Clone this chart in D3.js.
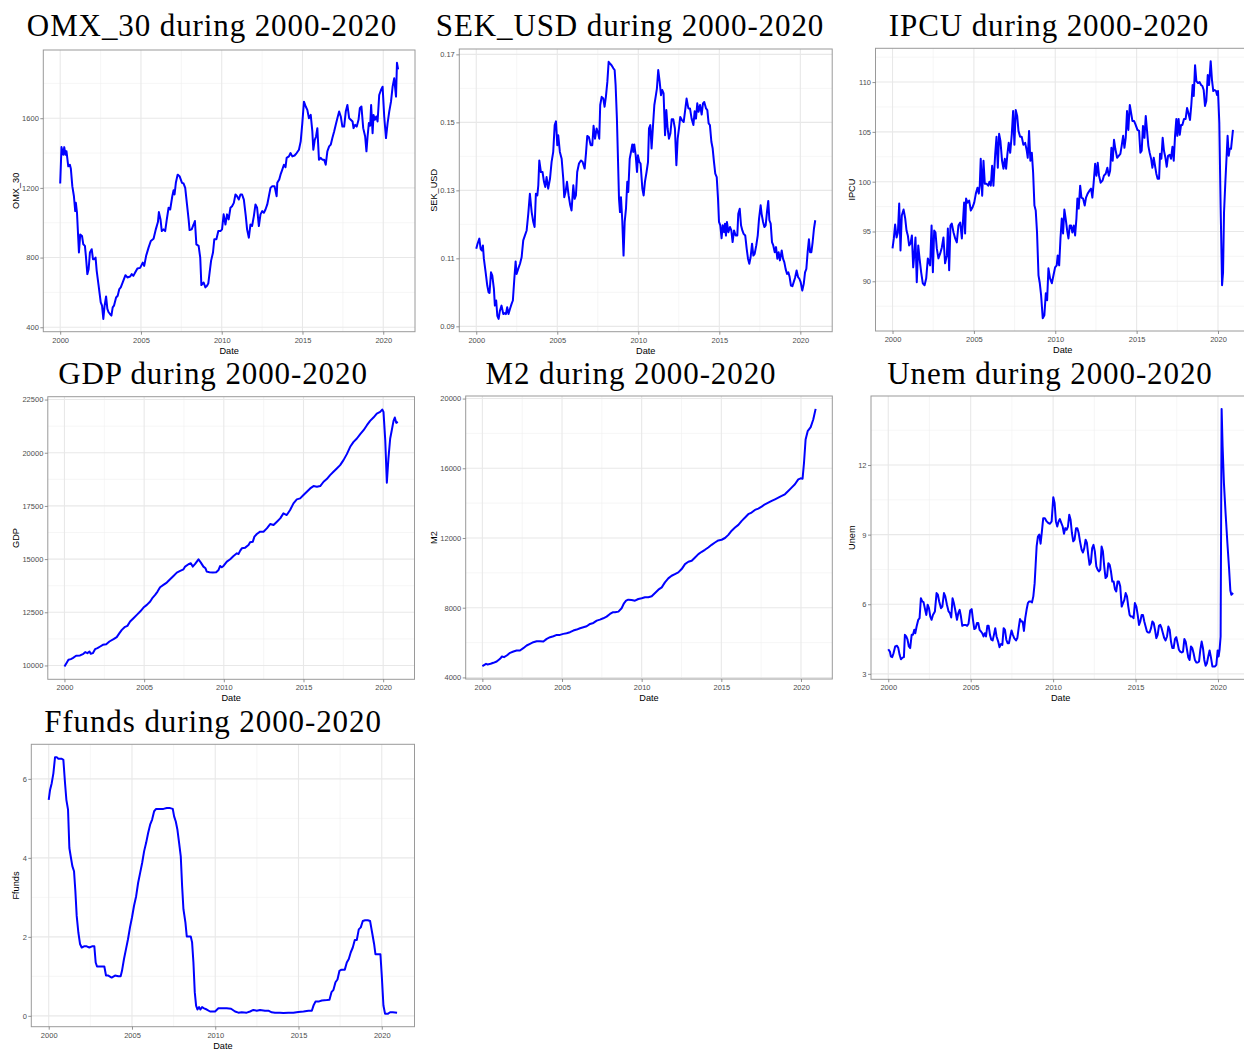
<!DOCTYPE html>
<html>
<head>
<meta charset="utf-8">
<script src="https://cdn.jsdelivr.net/npm/d3@7"></script>
<style>
    body { margin: 0; background: #fff; }
    .tick text { font-family: "Liberation Sans", Arial, sans-serif; font-size: 7.5px; fill: #4d4d4d; }
    .ptitle { font-family: "Liberation Serif", "Times New Roman", serif; font-size: 31px; letter-spacing: 0.9px; fill: #000; }
    .alab { font-family: "Liberation Sans", Arial, sans-serif; font-size: 9.2px; fill: #000; }
</style>
</head>
<body>
<div id="chart"></div>
<script>
// monthly-ish readings, [decimal year, value]
const xTicks = [2000, 2005, 2010, 2015, 2020]

const omx30 = [
    [2000.00,1225],[2000.08,1434],[2000.19,1390],[2000.25,1434],[2000.33,1390],[2000.39,1410],[2000.50,1324],[2000.60,1333],[2000.66,1310],[2000.75,1210],[2000.85,1152],[2000.93,1067],[2000.97,1114],
    [2001.04,1057],[2001.16,829],[2001.24,933],[2001.35,924],[2001.43,876],[2001.53,867],[2001.59,810],[2001.68,705],[2001.76,733],[2001.84,829],[2001.95,848],
    [2002.03,791],[2002.11,791],[2002.19,800],[2002.26,724],[2002.38,638],[2002.51,543],[2002.59,524],[2002.67,448],[2002.75,524],[2002.84,577],[2002.92,505],
    [2003.00,486],[2003.08,476],[2003.17,467],[2003.25,514],[2003.33,524],[2003.46,571],[2003.56,581],[2003.66,619],[2003.75,629],[2003.87,657],
    [2004.04,699],[2004.16,686],[2004.33,691],[2004.43,705],[2004.53,695],[2004.64,714],[2004.78,737],[2004.95,741],
    [2005.11,771],[2005.20,752],[2005.32,810],[2005.47,857],[2005.61,895],[2005.78,908],[2005.92,962],
    [2006.05,1004],[2006.11,1061],[2006.21,1019],[2006.29,952],[2006.40,962],[2006.50,952],[2006.60,1019],[2006.71,1086],[2006.81,1076],[2006.94,1152],
    [2007.02,1187],[2007.08,1162],[2007.16,1229],[2007.27,1276],[2007.39,1267],[2007.54,1229],[2007.64,1225],[2007.74,1200],[2007.85,1105],[2007.95,1019],
    [2008.01,958],[2008.14,962],[2008.26,990],[2008.34,1010],[2008.43,876],[2008.57,867],[2008.67,800],[2008.74,642],[2008.88,657],[2008.99,629],
    [2009.09,638],[2009.17,652],[2009.25,714],[2009.34,781],[2009.46,829],[2009.54,905],[2009.67,905],[2009.79,952],[2009.92,952],
    [2010.02,962],[2010.12,1048],[2010.23,990],[2010.33,1048],[2010.43,1019],[2010.54,1086],[2010.64,1095],[2010.75,1114],[2010.85,1162],[2010.95,1152],
    [2011.06,1133],[2011.16,1162],[2011.26,1162],[2011.37,1133],[2011.49,1038],[2011.57,962],[2011.68,914],[2011.78,990],[2011.88,981],[2011.99,1038],
    [2012.09,1105],[2012.19,1086],[2012.30,981],[2012.40,1048],[2012.51,1067],[2012.61,1057],[2012.71,1076],[2012.82,1105],[2012.92,1152],
    [2013.02,1200],[2013.13,1210],[2013.27,1210],[2013.40,1152],[2013.44,1229],[2013.56,1248],[2013.64,1276],[2013.75,1305],[2013.85,1333],[2013.95,1319],
    [2014.02,1372],[2014.16,1381],[2014.26,1400],[2014.37,1381],[2014.51,1386],[2014.64,1400],[2014.78,1419],[2014.89,1467],[2014.99,1572],
    [2015.09,1695],[2015.20,1667],[2015.30,1648],[2015.40,1600],[2015.51,1619],[2015.61,1524],[2015.67,1419],[2015.76,1476],[2015.84,1495],[2015.92,1543],
    [2016.02,1362],[2016.13,1372],[2016.23,1362],[2016.34,1362],[2016.44,1333],[2016.54,1410],[2016.65,1438],[2016.75,1448],[2016.85,1486],[2016.96,1524],
    [2017.06,1562],[2017.16,1600],[2017.27,1638],[2017.37,1610],[2017.47,1552],[2017.58,1552],[2017.68,1638],[2017.78,1676],[2017.89,1600],[2017.99,1591],
    [2018.10,1581],[2018.16,1543],[2018.26,1562],[2018.36,1552],[2018.47,1591],[2018.55,1657],[2018.65,1667],[2018.76,1543],[2018.88,1495],[2018.96,1410],
    [2019.03,1495],[2019.11,1572],[2019.19,1557],[2019.25,1676],[2019.34,1514],[2019.40,1619],[2019.48,1591],[2019.57,1610],[2019.65,1581],[2019.75,1733],[2019.86,1762],[2019.96,1781],
    [2020.06,1610],[2020.17,1486],[2020.27,1572],[2020.37,1638],[2020.48,1695],[2020.58,1781],[2020.68,1829],[2020.79,1724],[2020.85,1918],[2020.92,1880]
]

const sekUsd = [
    [2000.00,.1128],[2000.08,.1143],[2000.19,.1158],[2000.27,.1128],[2000.35,.1123],[2000.41,.1138],[2000.47,.1099],[2000.58,.1059],[2000.68,.1020],[2000.76,.1000],[2000.82,.0998],[2000.91,.1059],[2000.99,.1049],
    [2001.09,.1010],[2001.15,.0961],[2001.23,.0976],[2001.30,.0931],[2001.38,.0922],[2001.46,.0946],[2001.56,.0961],[2001.67,.0936],[2001.77,.0939],[2001.83,.0936],[2001.91,.0956],[2001.99,.0936],
    [2002.08,.0951],[2002.18,.0966],[2002.26,.0976],[2002.35,.1040],[2002.43,.1091],[2002.49,.1054],[2002.59,.1069],[2002.70,.1084],[2002.80,.1103],[2002.90,.1153],
    [2003.00,.1167],[2003.11,.1182],[2003.21,.1231],[2003.31,.1290],[2003.42,.1236],[2003.52,.1207],[2003.60,.1192],[2003.68,.1290],[2003.77,.1285],[2003.83,.1315],[2003.89,.1388],[2003.99,.1354],
    [2004.09,.1354],[2004.18,.1325],[2004.26,.1310],[2004.34,.1339],[2004.44,.1305],[2004.55,.1334],[2004.65,.1384],[2004.75,.1413],[2004.84,.1492],[2004.92,.1503],
    [2005.00,.1433],[2005.06,.1462],[2005.16,.1413],[2005.27,.1393],[2005.37,.1334],[2005.43,.1280],[2005.51,.1295],[2005.60,.1325],[2005.70,.1285],[2005.80,.1256],[2005.88,.1241],[2005.99,.1315],
    [2006.07,.1275],[2006.15,.1285],[2006.23,.1354],[2006.34,.1379],[2006.46,.1388],[2006.56,.1384],[2006.69,.1364],[2006.77,.1408],[2006.85,.1460],[2006.95,.1457],
    [2007.06,.1433],[2007.16,.1433],[2007.24,.1490],[2007.33,.1452],[2007.43,.1482],[2007.53,.1467],[2007.59,.1452],[2007.65,.1551],[2007.74,.1575],[2007.84,.1570],[2007.92,.1546],
    [2008.00,.1575],[2008.09,.1619],[2008.17,.1678],[2008.25,.1673],[2008.35,.1668],[2008.46,.1659],[2008.54,.1654],[2008.60,.1610],[2008.68,.1511],[2008.74,.1403],[2008.81,.1275],[2008.87,.1236],[2008.93,.1280],
    [2009.01,.1212],[2009.09,.1108],[2009.16,.1207],[2009.24,.1246],[2009.32,.1325],[2009.38,.1295],[2009.47,.1393],[2009.55,.1413],[2009.63,.1435],[2009.69,.1413],[2009.75,.1435],[2009.84,.1403],[2009.92,.1354],[2009.98,.1403],
    [2010.06,.1384],[2010.14,.1379],[2010.25,.1305],[2010.33,.1285],[2010.41,.1325],[2010.51,.1354],[2010.60,.1384],[2010.66,.1482],[2010.74,.1492],[2010.82,.1423],[2010.91,.1492],[2010.99,.1551],
    [2011.07,.1575],[2011.15,.1600],[2011.23,.1654],[2011.32,.1619],[2011.40,.1580],[2011.48,.1595],[2011.56,.1585],[2011.65,.1462],[2011.73,.1536],[2011.81,.1482],[2011.89,.1452],[2011.98,.1467],
    [2012.06,.1509],[2012.16,.1509],[2012.26,.1482],[2012.35,.1374],[2012.43,.1452],[2012.51,.1482],[2012.59,.1516],[2012.70,.1506],[2012.80,.1501],[2012.88,.1531],[2012.98,.1570],
    [2013.09,.1541],[2013.19,.1541],[2013.29,.1511],[2013.40,.1492],[2013.48,.1533],[2013.56,.1511],[2013.64,.1556],[2013.72,.1531],[2013.81,.1551],[2013.91,.1523],[2013.99,.1556],
    [2014.07,.1560],[2014.18,.1541],[2014.26,.1536],[2014.34,.1497],[2014.42,.1492],[2014.51,.1443],[2014.59,.1423],[2014.67,.1384],[2014.75,.1349],[2014.84,.1339],[2014.92,.1275],[2014.98,.1207],
    [2015.06,.1197],[2015.14,.1159],[2015.21,.1197],[2015.29,.1177],[2015.35,.1202],[2015.41,.1167],[2015.47,.1207],[2015.56,.1177],[2015.66,.1192],[2015.74,.1182],[2015.82,.1148],[2015.91,.1182],
    [2016.01,.1167],[2016.11,.1167],[2016.17,.1231],[2016.26,.1246],[2016.34,.1197],[2016.42,.1182],[2016.50,.1172],[2016.60,.1167],[2016.69,.1128],[2016.77,.1099],[2016.85,.1084],[2016.93,.1103],
    [2017.02,.1143],[2017.10,.1108],[2017.18,.1113],[2017.28,.1138],[2017.37,.1167],[2017.45,.1216],[2017.55,.1256],[2017.61,.1231],[2017.70,.1207],[2017.78,.1192],[2017.86,.1197],[2017.94,.1236],
    [2018.02,.1269],[2018.09,.1212],[2018.17,.1202],[2018.25,.1148],[2018.33,.1138],[2018.42,.1118],[2018.50,.1133],[2018.58,.1099],[2018.66,.1118],[2018.74,.1094],[2018.85,.1123],[2018.93,.1099],
    [2019.01,.1089],[2019.09,.1069],[2019.18,.1054],[2019.26,.1059],[2019.34,.1045],[2019.42,.1020],[2019.51,.1018],[2019.59,.1030],[2019.67,.1042],[2019.77,.1064],[2019.86,.1045],[2019.94,.1040],
    [2020.02,.1030],[2020.12,.1005],[2020.21,.1025],[2020.29,.1059],[2020.37,.1069],[2020.45,.1118],[2020.53,.1156],[2020.60,.1118],[2020.68,.1118],[2020.76,.1148],[2020.84,.1187],[2020.92,.1212]
]

const ipcu = [
    [2000.00,93.3],[2000.08,94.3],[2000.16,95.7],[2000.25,94.4],[2000.33,94.9],[2000.41,97.8],[2000.49,93.1],[2000.57,96.6],[2000.68,97.2],[2000.78,96.3],[2000.86,95.1],[2000.94,94.6],
    [2001.02,93.6],[2001.11,93.8],[2001.19,94.6],[2001.27,91.4],[2001.35,92.9],[2001.41,94.4],[2001.49,89.9],[2001.58,93.6],[2001.66,92.3],[2001.76,90.9],[2001.86,89.8],[2001.97,89.6],
    [2002.07,90.3],[2002.17,92.3],[2002.25,91.9],[2002.31,91.6],[2002.40,95.6],[2002.48,90.9],[2002.56,95.1],[2002.64,94.9],[2002.72,93.3],[2002.82,92.3],[2002.93,92.8],
    [2003.03,93.4],[2003.13,94.4],[2003.23,91.8],[2003.34,92.6],[2003.40,95.3],[2003.48,91.1],[2003.56,95.6],[2003.64,95.8],[2003.75,94.9],[2003.85,94.3],[2003.95,93.9],
    [2004.05,95.6],[2004.16,95.9],[2004.26,94.3],[2004.34,96.3],[2004.40,97.9],[2004.46,94.8],[2004.52,98.3],[2004.61,97.9],[2004.71,98.1],[2004.81,97.1],[2004.91,97.4],
    [2005.02,97.9],[2005.12,98.8],[2005.22,99.4],[2005.30,98.8],[2005.36,99.6],[2005.42,102.3],[2005.51,98.6],[2005.59,102.1],[2005.67,99.8],[2005.77,99.8],[2005.88,99.6],[2005.96,100.0],
    [2006.04,99.6],[2006.12,101.6],[2006.20,99.6],[2006.31,102.8],[2006.39,104.5],[2006.47,101.4],[2006.55,104.8],[2006.63,104.1],[2006.73,102.1],[2006.82,101.3],[2006.90,102.3],[2006.98,101.3],
    [2007.06,102.8],[2007.14,103.9],[2007.23,102.9],[2007.33,104.8],[2007.41,107.1],[2007.49,103.7],[2007.57,107.2],[2007.66,106.6],[2007.74,105.1],[2007.84,104.5],[2007.94,104.5],
    [2008.04,103.7],[2008.15,103.9],[2008.25,103.1],[2008.31,102.4],[2008.39,105.1],[2008.47,102.1],[2008.56,102.9],[2008.64,100.9],[2008.72,97.6],[2008.80,97.1],[2008.88,94.9],[2008.97,90.6],
    [2009.05,89.8],[2009.13,88.6],[2009.23,86.3],[2009.33,86.6],[2009.42,88.8],[2009.50,88.1],[2009.58,91.3],[2009.68,90.3],[2009.79,89.8],[2009.89,90.6],[2009.99,91.4],
    [2010.09,91.6],[2010.15,92.6],[2010.24,91.6],[2010.32,94.3],[2010.40,96.3],[2010.48,94.8],[2010.56,97.2],[2010.64,96.3],[2010.73,95.1],[2010.81,94.3],[2010.89,95.6],[2010.97,95.6],
    [2011.05,94.9],[2011.14,95.6],[2011.22,94.6],[2011.30,96.3],[2011.36,98.3],[2011.44,97.3],[2011.53,99.6],[2011.61,98.4],[2011.71,98.3],[2011.81,97.6],[2011.89,98.4],[2011.99,98.8],
    [2012.10,99.1],[2012.20,99.3],[2012.28,98.4],[2012.36,99.9],[2012.45,101.8],[2012.53,100.6],[2012.61,101.9],[2012.69,100.6],[2012.79,99.9],[2012.90,100.1],[2012.99,100.6],
    [2013.10,100.8],[2013.20,101.4],[2013.29,100.6],[2013.37,101.1],[2013.45,103.4],[2013.53,102.1],[2013.61,104.2],[2013.69,103.3],[2013.80,102.4],[2013.90,102.6],[2014.00,102.8],
    [2014.08,103.6],[2014.17,104.6],[2014.25,103.4],[2014.33,104.4],[2014.41,107.1],[2014.49,105.2],[2014.58,107.7],[2014.66,106.9],[2014.74,106.1],[2014.84,106.1],[2014.94,105.7],
    [2015.05,105.2],[2015.15,105.1],[2015.23,102.9],[2015.31,103.1],[2015.39,105.6],[2015.48,104.4],[2015.56,106.6],[2015.64,105.1],[2015.72,103.6],[2015.80,102.9],[2015.89,102.3],[2015.97,101.4],
    [2016.05,102.4],[2016.13,101.6],[2016.21,100.8],[2016.29,100.3],[2016.38,100.3],[2016.44,102.8],[2016.52,102.3],[2016.60,104.4],[2016.68,103.1],[2016.77,102.4],[2016.85,101.5],[2016.93,102.6],
    [2017.03,102.7],[2017.11,102.3],[2017.20,103.5],[2017.28,102.1],[2017.36,104.6],[2017.44,106.3],[2017.50,104.6],[2017.58,106.3],[2017.65,104.7],[2017.73,105.7],[2017.81,105.7],[2017.91,106.3],
    [2018.01,106.3],[2018.10,107.4],[2018.18,106.9],[2018.28,106.2],[2018.36,107.7],[2018.44,109.7],[2018.51,108.6],[2018.59,111.7],[2018.67,110.1],[2018.77,109.9],[2018.87,110.0],[2018.96,109.7],
    [2019.04,109.6],[2019.12,109.2],[2019.20,107.6],[2019.28,108.1],[2019.37,110.7],[2019.45,109.7],[2019.55,112.1],[2019.63,110.2],[2019.71,109.1],[2019.79,109.2],[2019.88,109.1],[2019.94,108.7],
    [2020.00,109.1],[2020.08,105.9],[2020.16,97.6],[2020.25,89.6],[2020.31,90.9],[2020.37,96.9],[2020.45,99.9],[2020.53,102.6],[2020.59,104.6],[2020.66,102.6],[2020.72,103.3],[2020.80,103.3],[2020.92,105.2]
]

const gdp = [
    [2000.00,9953],[2000.15,10141],[2000.25,10266],[2000.40,10297],[2000.52,10344],[2000.73,10454],[2000.98,10469],[2001.19,10548],[2001.30,10626],[2001.44,10579],[2001.57,10657],[2001.65,10548],[2001.78,10579],[2001.92,10767],
    [2002.07,10814],[2002.24,10892],[2002.41,10970],[2002.62,11001],[2002.82,11126],[2003.08,11236],[2003.28,11330],[2003.45,11518],[2003.60,11674],[2003.77,11799],[2003.95,11862],
    [2004.12,12065],[2004.33,12222],[2004.54,12378],[2004.75,12534],[2004.96,12722],[2005.17,12847],[2005.38,13004],[2005.54,13192],[2005.69,13317],[2005.84,13473],
    [2006.00,13677],[2006.21,13786],[2006.42,13896],[2006.63,14052],[2006.84,14208],[2007.05,14365],[2007.26,14443],[2007.47,14521],[2007.57,14647],[2007.78,14756],[2007.93,14803],
    [2008.05,14647],[2008.20,14772],[2008.41,14991],[2008.56,14834],[2008.72,14647],[2008.85,14568],[2008.93,14412],[2009.10,14381],[2009.31,14365],[2009.52,14381],[2009.67,14490],[2009.77,14678],[2009.87,14615],[2009.98,14678],
    [2010.19,14881],[2010.40,14991],[2010.61,15147],[2010.82,15272],[2010.92,15241],[2011.03,15397],[2011.13,15507],[2011.34,15538],[2011.55,15663],[2011.65,15789],[2011.82,15820],[2011.92,16055],
    [2012.07,16180],[2012.28,16289],[2012.49,16289],[2012.70,16446],[2012.91,16649],[2013.12,16602],[2013.33,16759],[2013.54,16915],[2013.74,17150],[2013.95,17071],
    [2014.16,17306],[2014.37,17619],[2014.58,17807],[2014.79,17854],[2015.00,18010],[2015.21,18167],[2015.42,18323],[2015.63,18433],[2015.84,18401],
    [2016.05,18433],[2016.26,18636],[2016.46,18761],[2016.67,18949],[2016.88,19105],[2017.09,19262],[2017.30,19418],[2017.51,19653],[2017.72,19935],[2017.93,20279],
    [2018.14,20513],[2018.35,20670],[2018.56,20873],[2018.77,21060],[2018.98,21296],[2019.18,21499],[2019.39,21656],[2019.60,21843],[2019.81,21922],[2019.94,22031],
    [2020.02,21922],[2020.13,20592],[2020.23,18589],[2020.33,19731],[2020.44,20670],[2020.54,21060],[2020.65,21499],[2020.73,21656],[2020.82,21405],[2020.92,21452]
]

const m2 = [
    [2000.00,4648],[2000.13,4725],[2000.23,4782],[2000.33,4744],[2000.52,4782],[2000.69,4839],[2000.90,4915],[2001.11,5068],[2001.23,5201],[2001.36,5163],[2001.53,5259],[2001.74,5411],[2001.95,5488],
    [2002.15,5545],[2002.36,5545],[2002.57,5678],[2002.78,5831],[2002.99,5926],[2003.20,6021],[2003.41,6079],[2003.62,6079],[2003.83,6060],
    [2004.04,6212],[2004.25,6307],[2004.46,6365],[2004.67,6441],[2004.87,6441],[2005.08,6498],[2005.29,6536],[2005.50,6594],[2005.71,6689],[2005.92,6746],
    [2006.13,6822],[2006.34,6880],[2006.55,6937],[2006.76,7070],[2006.97,7127],[2007.18,7261],[2007.38,7318],[2007.59,7394],[2007.80,7490],
    [2008.01,7642],[2008.18,7738],[2008.33,7738],[2008.54,7776],[2008.74,7967],[2008.89,8253],[2009.02,8405],[2009.16,8462],[2009.37,8443],[2009.58,8405],[2009.79,8500],
    [2010.00,8539],[2010.21,8596],[2010.42,8596],[2010.63,8653],[2010.84,8844],[2011.05,9035],[2011.26,9168],[2011.46,9454],[2011.67,9683],[2011.88,9835],
    [2012.09,9931],[2012.30,10026],[2012.51,10217],[2012.72,10503],[2012.93,10636],[2013.14,10693],[2013.35,10884],[2013.56,11075],[2013.77,11208],[2013.97,11323],
    [2014.18,11456],[2014.39,11609],[2014.60,11742],[2014.81,11860],[2015.02,11900],[2015.23,12000],[2015.44,12180],[2015.65,12420],[2015.86,12601],
    [2016.07,12753],[2016.28,12982],[2016.49,13173],[2016.69,13364],[2016.90,13459],[2017.11,13611],[2017.32,13688],[2017.53,13802],[2017.74,13935],[2017.95,14031],
    [2018.16,14126],[2018.37,14221],[2018.58,14317],[2018.79,14412],[2018.99,14508],[2019.20,14698],[2019.41,14889],[2019.62,15080],[2019.83,15366],[2019.98,15423],
    [2020.10,15404],[2020.19,16319],[2020.29,17654],[2020.42,18131],[2020.61,18360],[2020.77,18799],[2020.92,19409]
]

const unem = [
    [2000.00,4.06],[2000.10,3.96],[2000.16,3.75],[2000.24,3.72],[2000.32,3.89],[2000.42,4.18],[2000.53,4.21],[2000.61,4.11],[2000.69,3.82],[2000.77,3.63],[2000.87,3.70],[2000.95,3.72],
    [2001.01,4.68],[2001.09,4.61],[2001.17,4.47],[2001.25,4.18],[2001.33,4.11],[2001.42,4.68],[2001.50,4.68],[2001.58,4.90],[2001.64,4.75],[2001.72,5.04],[2001.82,5.33],[2001.90,5.40],[2001.98,6.26],
    [2002.06,6.12],[2002.14,6.09],[2002.22,5.83],[2002.31,5.54],[2002.39,5.98],[2002.47,5.83],[2002.55,5.47],[2002.63,5.33],[2002.71,5.54],[2002.83,5.69],[2002.93,6.48],
    [2003.01,6.41],[2003.09,6.12],[2003.20,5.83],[2003.28,5.90],[2003.38,6.48],[2003.46,6.34],[2003.56,5.98],[2003.66,5.69],[2003.74,5.62],[2003.82,5.43],[2003.90,6.26],[2003.98,6.05],
    [2004.06,5.76],[2004.17,5.33],[2004.25,5.62],[2004.33,5.76],[2004.41,5.47],[2004.49,5.07],[2004.59,5.11],[2004.69,5.11],[2004.79,5.07],[2004.87,5.16],[2004.97,5.73],
    [2005.06,5.79],[2005.14,5.33],[2005.22,4.93],[2005.30,4.97],[2005.38,5.19],[2005.46,5.19],[2005.54,4.90],[2005.62,4.83],[2005.70,4.75],[2005.78,4.61],[2005.86,4.75],[2005.93,4.61],
    [2006.01,5.07],[2006.09,5.07],[2006.17,4.68],[2006.25,4.47],[2006.33,4.44],[2006.41,4.68],[2006.49,4.97],[2006.57,4.61],[2006.67,4.39],[2006.75,4.15],[2006.84,4.29],[2006.92,4.25],
    [2007.00,4.97],[2007.08,4.90],[2007.16,4.47],[2007.24,4.32],[2007.32,4.32],[2007.40,4.61],[2007.48,4.87],[2007.56,4.68],[2007.64,4.54],[2007.75,4.44],[2007.83,4.54],[2007.91,4.97],[2007.99,5.36],
    [2008.07,5.26],[2008.15,5.26],[2008.23,4.85],[2008.31,5.40],[2008.39,5.76],[2008.47,6.05],[2008.55,6.12],[2008.63,6.12],[2008.72,6.08],[2008.80,6.34],[2008.88,6.91],[2008.94,7.70],
    [2009.00,8.49],[2009.08,8.92],[2009.16,9.00],[2009.24,8.61],[2009.32,9.14],[2009.40,9.71],[2009.50,9.71],[2009.61,9.57],[2009.71,9.50],[2009.81,9.47],[2009.91,9.57],
    [2010.01,10.61],[2010.09,10.36],[2010.17,9.57],[2010.25,9.35],[2010.33,9.57],[2010.41,9.67],[2010.50,9.50],[2010.58,9.35],[2010.66,9.04],[2010.74,9.28],[2010.82,9.21],[2010.90,9.35],[2010.98,9.86],
    [2011.06,9.64],[2011.14,9.07],[2011.22,8.71],[2011.30,8.78],[2011.39,9.28],[2011.47,9.28],[2011.55,9.07],[2011.63,8.71],[2011.73,8.35],[2011.81,8.23],[2011.89,8.42],[2011.97,8.78],
    [2012.05,8.64],[2012.13,8.13],[2012.21,7.70],[2012.29,7.80],[2012.37,8.42],[2012.45,8.56],[2012.53,8.28],[2012.62,7.63],[2012.70,7.49],[2012.78,7.41],[2012.86,7.49],[2012.94,8.49],
    [2013.02,8.28],[2013.10,7.63],[2013.18,7.13],[2013.27,7.20],[2013.35,7.77],[2013.43,7.70],[2013.51,7.41],[2013.59,6.98],[2013.67,6.98],[2013.75,6.65],[2013.83,6.55],[2013.91,6.98],[2013.99,6.98],
    [2014.07,6.77],[2014.16,5.90],[2014.24,6.05],[2014.32,6.19],[2014.40,6.48],[2014.48,6.34],[2014.56,5.90],[2014.64,5.54],[2014.72,5.47],[2014.80,5.47],[2014.88,5.40],[2014.96,6.05],
    [2015.05,5.90],[2015.13,5.54],[2015.21,5.11],[2015.29,5.26],[2015.37,5.54],[2015.45,5.54],[2015.53,5.26],[2015.61,5.04],[2015.69,4.83],[2015.77,4.78],[2015.85,4.78],[2015.94,4.97],
    [2016.02,5.26],[2016.10,5.19],[2016.18,4.90],[2016.26,4.54],[2016.34,4.68],[2016.42,5.07],[2016.50,5.11],[2016.58,4.97],[2016.66,4.75],[2016.74,4.54],[2016.82,4.44],[2016.91,4.61],[2016.99,5.04],
    [2017.07,4.90],[2017.15,4.39],[2017.23,4.11],[2017.31,4.11],[2017.39,4.50],[2017.47,4.58],[2017.55,4.32],[2017.63,4.04],[2017.71,3.96],[2017.80,3.92],[2017.88,3.96],[2017.96,4.50],
    [2018.04,4.39],[2018.12,4.04],[2018.20,3.70],[2018.28,3.60],[2018.36,4.18],[2018.44,4.11],[2018.52,3.89],[2018.60,3.60],[2018.69,3.49],[2018.77,3.49],[2018.85,3.53],[2018.93,4.04],
    [2019.01,4.39],[2019.09,4.11],[2019.17,3.60],[2019.25,3.35],[2019.33,3.46],[2019.41,3.75],[2019.49,4.01],[2019.57,3.72],[2019.66,3.32],[2019.74,3.32],[2019.82,3.32],[2019.90,3.39],[2019.98,4.01],
    [2020.04,3.75],[2020.10,4.06],[2020.16,4.61],[2020.22,14.42],[2020.28,12.81],[2020.36,11.22],[2020.46,9.93],[2020.57,8.64],[2020.67,7.56],[2020.75,6.59],[2020.81,6.41],[2020.92,6.48]
]

const ffunds = [
    [2000.00,5.47],[2000.08,5.72],[2000.18,5.89],[2000.28,6.14],[2000.38,6.55],[2000.48,6.55],[2000.58,6.51],[2000.68,6.51],[2000.78,6.51],[2000.88,6.48],[2000.98,5.89],
    [2001.06,5.47],[2001.16,5.22],[2001.24,4.25],[2001.32,4.04],[2001.42,3.79],[2001.52,3.66],[2001.60,3.16],[2001.68,2.53],[2001.78,2.11],[2001.88,1.82],[2001.98,1.73],
    [2002.12,1.76],[2002.28,1.76],[2002.44,1.73],[2002.60,1.76],[2002.74,1.76],[2002.82,1.35],[2002.90,1.25],[2003.04,1.25],[2003.18,1.25],[2003.34,1.25],[2003.44,1.02],[2003.58,1.02],[2003.78,0.97],[2003.98,1.02],
    [2004.18,1.00],[2004.32,1.00],[2004.40,1.14],[2004.52,1.44],[2004.64,1.69],[2004.76,1.94],[2004.88,2.24],[2005.00,2.49],[2005.12,2.78],[2005.25,3.03],[2005.37,3.37],[2005.49,3.62],[2005.61,3.87],[2005.73,4.17],[2005.85,4.38],[2005.97,4.63],
    [2006.09,4.84],[2006.21,4.97],[2006.33,5.18],[2006.45,5.24],[2006.65,5.24],[2006.89,5.24],[2007.09,5.26],[2007.29,5.26],[2007.45,5.24],[2007.53,5.05],[2007.63,4.92],[2007.73,4.71],[2007.83,4.38],[2007.93,4.04],
    [2008.01,3.29],[2008.09,2.70],[2008.21,2.36],[2008.29,2.01],[2008.39,2.01],[2008.53,2.01],[2008.61,1.86],[2008.69,1.35],[2008.77,0.60],[2008.85,0.26],[2008.93,0.16],
    [2009.03,0.22],[2009.11,0.16],[2009.21,0.22],[2009.33,0.19],[2009.49,0.16],[2009.69,0.11],[2009.99,0.11],[2010.19,0.19],[2010.39,0.19],[2010.69,0.19],[2010.95,0.18],
    [2011.19,0.11],[2011.39,0.08],[2011.59,0.09],[2011.89,0.08],[2012.09,0.11],[2012.29,0.15],[2012.49,0.13],[2012.69,0.15],[2012.99,0.13],[2013.19,0.13],[2013.39,0.09],[2013.59,0.08],[2013.89,0.08],
    [2014.09,0.07],[2014.39,0.08],[2014.69,0.08],[2014.99,0.10],[2015.30,0.11],[2015.60,0.13],[2015.80,0.13],[2015.90,0.26],[2016.02,0.36],[2016.20,0.36],[2016.40,0.39],[2016.70,0.40],[2016.86,0.41],[2016.98,0.60],
    [2017.10,0.66],[2017.22,0.85],[2017.34,0.92],[2017.46,1.14],[2017.58,1.17],[2017.78,1.17],[2017.90,1.35],[2018.02,1.44],[2018.14,1.61],[2018.26,1.73],[2018.38,1.92],[2018.50,1.92],[2018.62,2.19],[2018.74,2.24],[2018.86,2.40],
    [2019.00,2.42],[2019.16,2.42],[2019.30,2.40],[2019.42,2.11],[2019.54,1.82],[2019.62,1.56],[2019.80,1.56],[2019.92,1.56],[2020.00,1.02],[2020.10,0.26],[2020.20,0.05],[2020.36,0.05],[2020.50,0.09],[2020.66,0.09],[2020.92,0.08]
]

const omxTicks = [400, 800, 1200, 1600]
const sekTicks = [0.09, 0.11, 0.13, 0.15, 0.17]
const ipcuTicks = [90, 95, 100, 105, 110]
const gdpTicks = [10000, 12500, 15000, 17500, 20000, 22500]
const m2Ticks = [4000, 8000, 12000, 16000, 20000]
const unemTicks = [3, 6, 9, 12]
const ffundsTicks = [0, 2, 4, 6]

// panel boxes [left, top, right, bottom]
const panels = [
    { name: 'OMX_30', data: omx30, ticks: omxTicks, box: [43.3, 50, 415, 331.7], titleX: 212, titleY: 36, ylabX: 18.5 },
    { name: 'SEK_USD', data: sekUsd, ticks: sekTicks, box: [459.3, 49, 832.2, 331.7], titleX: 630, titleY: 36, ylabX: 436.5 },
    { name: 'IPCU', data: ipcu, ticks: ipcuTicks, box: [875.5, 48.3, 1250, 331], titleX: 1049, titleY: 36, ylabX: 855 },
    { name: 'GDP', data: gdp, ticks: gdpTicks, box: [47.8, 396.7, 414.5, 679.3], titleX: 213, titleY: 383.5, ylabX: 19 },
    { name: 'M2', data: m2, ticks: m2Ticks, box: [465.7, 396, 832.3, 679], titleX: 631, titleY: 383.5, ylabX: 436.7 },
    { name: 'Unem', data: unem, ticks: unemTicks, box: [871, 396, 1250.4, 679.3], titleX: 1050, titleY: 383.5, ylabX: 855 },
    { name: 'Ffunds', data: ffunds, ticks: ffundsTicks, box: [31.3, 744.3, 414.5, 1026.7], titleX: 213, titleY: 731.5, ylabX: 19 },
]

const svg = d3.select('#chart')
    .append('svg')
    .attr('width', 1244)
    .attr('height', 1051)
    .style('display', 'block')

svg.append('rect').attr('width', 1244).attr('height', 1051).attr('fill', '#fff')

// midpoints between breaks, like ggplot minor breaks
function minorBreaks(ticks, domain) {
    const step = ticks[1] - ticks[0]
    const out = []
    for (let t = ticks[0] - step; t <= ticks[ticks.length - 1] + step; t += step) {
        const m = t + step / 2
        if (m > domain[0] && m < domain[1]) out.push(m)
    }
    return out
}

function drawPanel(p) {
    const [x0, y0, x1, y1] = p.box
    const w = x1 - x0, h = y1 - y0

    const xExt = d3.extent(p.data, d => d[0])
    const xPad = (xExt[1] - xExt[0]) * 0.05
    const x = d3.scaleLinear().domain([xExt[0] - xPad, xExt[1] + xPad]).range([0, w])

    const yExt = d3.extent(p.data, d => d[1])
    const yPad = (yExt[1] - yExt[0]) * 0.05
    const y = d3.scaleLinear().domain([yExt[0] - yPad, yExt[1] + yPad]).range([h, 0])

    const g = svg.append('g').attr('transform', `translate(${x0},${y0})`)

    // grid
    const grid = g.append('g')
    grid.selectAll('.ymin').data(minorBreaks(p.ticks, y.domain())).join('line')
        .attr('x1', 0).attr('x2', w).attr('y1', d => y(d)).attr('y2', d => y(d))
        .attr('stroke', '#f0f0f0').attr('stroke-width', 0.6)
    grid.selectAll('.xmin').data(minorBreaks(xTicks, x.domain())).join('line')
        .attr('y1', 0).attr('y2', h).attr('x1', d => x(d)).attr('x2', d => x(d))
        .attr('stroke', '#f0f0f0').attr('stroke-width', 0.6)
    grid.selectAll('.ymaj').data(p.ticks).join('line')
        .attr('x1', 0).attr('x2', w).attr('y1', d => y(d)).attr('y2', d => y(d))
        .attr('stroke', '#e8e8e8').attr('stroke-width', 1.1)
    grid.selectAll('.xmaj').data(xTicks).join('line')
        .attr('y1', 0).attr('y2', h).attr('x1', d => x(d)).attr('x2', d => x(d))
        .attr('stroke', '#e8e8e8').attr('stroke-width', 1.1)

    // the series
    const line = d3.line().x(d => x(d[0])).y(d => y(d[1]))
    g.append('path')
        .datum(p.data)
        .attr('d', line)
        .attr('fill', 'none')
        .attr('stroke', '#0000ff')
        .attr('stroke-width', 2)
        .attr('stroke-linejoin', 'round')

    // border
    g.append('rect').attr('width', w).attr('height', h)
        .attr('fill', 'none').attr('stroke', '#9a9a9a').attr('stroke-width', 1)

    // axes
    const yAxis = g.append('g')
        .call(d3.axisLeft(y).tickValues(p.ticks).tickSize(3).tickPadding(1.5).tickFormat(d => String(d)))
    const xAxis = g.append('g')
        .attr('transform', `translate(0,${h})`)
        .call(d3.axisBottom(x).tickValues(xTicks).tickSize(3).tickPadding(2.5).tickFormat(d3.format('d')))
    for (const a of [yAxis, xAxis]) {
        a.select('.domain').remove()
        a.selectAll('.tick line').attr('stroke', '#777').attr('stroke-width', 0.8)
        a.attr('font-family', null).attr('font-size', null)
    }

    // labels
    g.append('text')
        .attr('class', 'alab')
        .attr('text-anchor', 'middle')
        .attr('x', w / 2)
        .attr('y', h + 22)
        .text('Date')

    svg.append('text')
        .attr('class', 'alab')
        .attr('text-anchor', 'middle')
        .attr('transform', `translate(${p.ylabX},${y0 + h / 2}) rotate(-90)`)
        .text(p.name)

    svg.append('text')
        .attr('class', 'ptitle')
        .attr('text-anchor', 'middle')
        .attr('x', p.titleX)
        .attr('y', p.titleY)
        .text(`${p.name} during 2000-2020`)
}

panels.forEach(drawPanel)
</script>
</body>
</html>
